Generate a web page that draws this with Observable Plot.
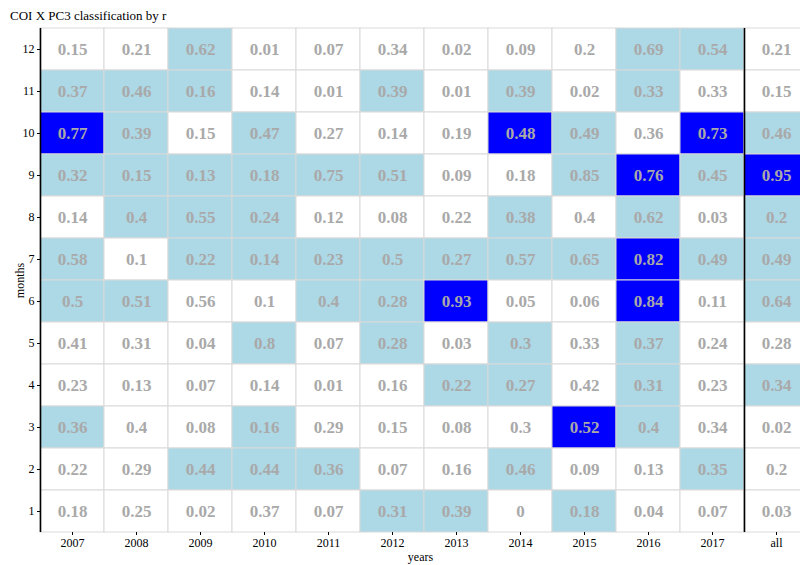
<!DOCTYPE html>
<html><head><meta charset="utf-8">
<script src="https://cdn.jsdelivr.net/npm/d3@7"></script>
<script src="https://cdn.jsdelivr.net/npm/@observablehq/plot@0.6"></script>
<style>
body{margin:0;overflow:hidden;background:white;}
#wrap{position:relative;width:800px;height:565px;overflow:hidden;}
#wrap svg{position:absolute;left:0;top:0;}
#wrap svg text{font-family:"Liberation Serif",serif !important;}
#title{position:absolute;left:10px;top:8px;font:13px "Liberation Serif",serif;color:#000;z-index:2;}
</style></head><body><div id="wrap"><div id="title"></div></div>
<script>
const titleText = "COI X PC3 classification by r";
const columns = ["2007","2008","2009","2010","2011","2012","2013","2014","2015","2016","2017","all"];
const months = ["12","11","10","9","8","7","6","5","4","3","2","1"];
// r values, one row per month (12 at top), columns as above
const rValues = [
  [0.15,0.21,0.62,0.01,0.07,0.34,0.02,0.09,0.2,0.69,0.54,0.21],
  [0.37,0.46,0.16,0.14,0.01,0.39,0.01,0.39,0.02,0.33,0.33,0.15],
  [0.77,0.39,0.15,0.47,0.27,0.14,0.19,0.48,0.49,0.36,0.73,0.46],
  [0.32,0.15,0.13,0.18,0.75,0.51,0.09,0.18,0.85,0.76,0.45,0.95],
  [0.14,0.4,0.55,0.24,0.12,0.08,0.22,0.38,0.4,0.62,0.03,0.2],
  [0.58,0.1,0.22,0.14,0.23,0.5,0.27,0.57,0.65,0.82,0.49,0.49],
  [0.5,0.51,0.56,0.1,0.4,0.28,0.93,0.05,0.06,0.84,0.11,0.64],
  [0.41,0.31,0.04,0.8,0.07,0.28,0.03,0.3,0.33,0.37,0.24,0.28],
  [0.23,0.13,0.07,0.14,0.01,0.16,0.22,0.27,0.42,0.31,0.23,0.34],
  [0.36,0.4,0.08,0.16,0.29,0.15,0.08,0.3,0.52,0.4,0.34,0.02],
  [0.22,0.29,0.44,0.44,0.36,0.07,0.16,0.46,0.09,0.13,0.35,0.2],
  [0.18,0.25,0.02,0.37,0.07,0.31,0.39,0,0.18,0.04,0.07,0.03]
];
// classification per cell: 0 = white, 1 = light blue, 2 = blue
const classes = [
  [0,0,1,0,0,0,0,0,0,1,1,0],
  [1,1,1,0,0,1,0,1,0,1,0,0],
  [2,1,0,1,0,0,0,2,1,0,2,1],
  [1,1,1,1,1,1,0,0,1,2,1,2],
  [0,1,1,1,0,0,0,1,0,1,0,1],
  [1,0,1,1,1,1,1,1,1,2,1,1],
  [1,1,0,0,1,1,2,0,0,2,0,1],
  [0,0,0,1,0,1,0,1,0,1,0,0],
  [0,0,0,0,0,0,1,1,0,1,0,1],
  [1,0,0,1,0,0,0,0,2,1,0,0],
  [0,0,1,1,1,0,0,1,0,0,1,0],
  [0,0,0,0,0,1,1,0,1,0,0,0]
];
const classNames = ["class 0","class 1","class 2"];
const classColors = ["white","#add8e6","#0000ff"];

document.getElementById("title").textContent = titleText;

const data = [];
months.forEach((m, i) => columns.forEach((c, j) => {
  data.push({month: m, col: c, r: rValues[i][j], cls: classNames[classes[i][j]]});
}));

const W = 800, H = 565;
const mL = 40, mT = 28, mB = 33;
const cellW = 64;
const cellH = (H - mT - mB) / months.length;
const font = '"Liberation Serif", serif';

const chart = Plot.plot({
  width: W, height: H,
  marginLeft: mL, marginRight: 0, marginTop: mT, marginBottom: mB,
  style: {fontFamily: font, fontSize: "11px", color: "black", background: "white"},
  x: {type: "band", domain: columns, range: [mL, mL + cellW * columns.length], padding: 0},
  y: {type: "band", domain: months, padding: 0},
  color: {type: "ordinal", domain: classNames, range: classColors},
  marks: [
    Plot.cell(data, {x: "col", y: "month", fill: "cls", stroke: "#d9d9d9", strokeWidth: 1, inset: 0}),
    Plot.text(data, {x: "col", y: "month", text: d => String(d.r), fill: "#a9a9a9",
      fontWeight: "bold", fontSize: 17, fontFamily: font}),
    Plot.ruleX([columns[0], "all"], {x: d => d, dx: -cellW / 2, stroke: "black", strokeWidth: 1.6}),
    Plot.ruleY([months[months.length - 1]], {y: d => d, dy: cellH / 2, x1: columns[0], x2: "all",
      stroke: "black", strokeWidth: 1.6, insetLeft: 0}),
    Plot.axisX({tickSize: 3, tickPadding: 3, label: "years", labelAnchor: "center", labelOffset: 28, fontSize: 12}),
    Plot.axisY({tickSize: 3, tickPadding: 3, label: "months", labelAnchor: "center", labelOffset: 25, labelArrow: "none", fontSize: 12})
  ]
});
document.getElementById("wrap").appendChild(chart);
</script>
</body></html>
